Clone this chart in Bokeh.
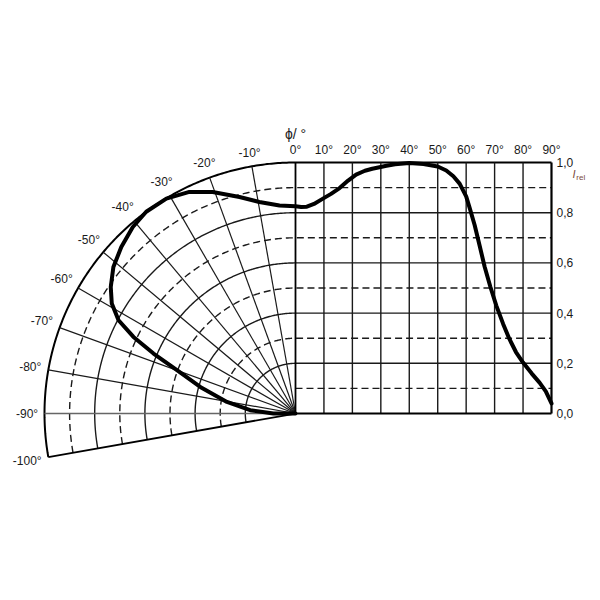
import numpy as np
from bokeh.plotting import figure
from bokeh.embed import file_html
from bokeh.resources import INLINE
from bokeh.core.properties import value

# ---------------- data ----------------
# polar part (angle in degrees, relative intensity)
polar_angle = [-90, -90, -85.8, -80.4, -74.4, -69.9, -67.1, -64.7, -62.2, -59.1, -55.6,
               -51.2, -46.3, -41.1, -36.5, -31, -25.6, -20.5, -14.5, -9.7, -4.4, 0]
polar_int = [0.0, 0.088, 0.181, 0.277, 0.394, 0.503, 0.614, 0.714, 0.797, 0.853, 0.892,
             0.931, 0.96, 0.986, 1.0, 0.999, 0.979, 0.942, 0.891, 0.855, 0.831, 0.826]
# cartesian part (angle in degrees, relative intensity)
cart_angle = [0, 2, 4, 6.5, 9.5, 12.5, 15.5, 18.5, 21.3, 24.4, 27, 29.5, 32, 35, 40, 45, 50,
              53, 55.5, 57.7, 60, 61.2, 63, 64.7, 66.5, 68.5, 70.6, 73, 75.2, 77.5, 80, 83,
              85.8, 88, 90]
cart_int = [0.826, 0.823, 0.824, 0.835, 0.855, 0.875, 0.898, 0.928, 0.952, 0.967, 0.975,
            0.981, 0.987, 0.993, 0.998, 0.994, 0.984, 0.968, 0.945, 0.916, 0.865, 0.82,
            0.75, 0.67, 0.585, 0.505, 0.43, 0.357, 0.297, 0.245, 0.203, 0.16, 0.123,
            0.088, 0.04]

polar_ticks = [-10, -20, -30, -40, -50, -60, -70, -80, -90, -100]
polar_tick_labels = ["-10°", "-20°", "-30°", "-40°", "-50°", "-60°", "-70°", "-80°", "-90°", "-100°"]
cart_ticks = [0, 10, 20, 30, 40, 50, 60, 70, 80, 90]
cart_tick_labels = ["0°", "10°", "20°", "30°", "40°", "50°", "60°", "70°", "80°", "90°"]
int_ticks = [0.0, 0.2, 0.4, 0.6, 0.8, 1.0]
int_tick_labels = ["0,0", "0,2", "0,4", "0,6", "0,8", "1,0"]
solid_levels = [0.2, 0.4, 0.6, 0.8, 1.0]
dashed_levels = [0.1, 0.3, 0.5, 0.7, 0.9]

# ---------------- layout ----------------
K = 256.0 / 251.0          # width of the 0..90 deg cartesian part in radius units
FONT = value("Liberation Sans")
INK = "#1a1a1a"

p = figure(width=592, height=584, x_range=(-1.1753, 1.1833), y_range=(-0.6812, 1.6454),
           x_axis_type=None, y_axis_type=None, toolbar_location=None,
           output_backend="svg", min_border=0, outline_line_color=None)
p.grid.visible = False
p.background_fill_color = "white"
p.border_fill_color = "white"

def cx(phi):
    return np.asarray(phi, dtype=float) / 90.0 * K

def level_path(r, with_arc=True):
    if with_arc:
        th = np.radians(np.linspace(-100, 0, 201))
        xs = list(r * np.sin(th))
        ys = list(r * np.cos(th))
    else:
        xs, ys = [0.0], [r]
    xs.append(K)
    ys.append(r)
    return xs, ys

# dashed levels
dx, dy = [], []
for r in dashed_levels:
    a, b = level_path(r, with_arc=(r > 0.15))
    dx.append(a); dy.append(b)
p.multi_line(dx, dy, line_color=INK, line_width=1.4, line_dash="7 4")

# solid levels
sx, sy = [], []
for r in solid_levels:
    if r < 1.0:
        a, b = level_path(r)
        sx.append(a); sy.append(b)
p.multi_line(sx, sy, line_color=INK, line_width=1.4)
a, b = level_path(1.0)
p.line(a, b, line_color="black", line_width=2.0)

# radial rays
rx, ry = [], []
for t in polar_ticks:
    if t in (-90, -100):
        continue
    th = np.radians(t)
    rx.append([0, np.sin(th)]); ry.append([0, np.cos(th)])
p.multi_line(rx, ry, line_color=INK, line_width=1.2)
th = np.radians(-90)
p.line([0, np.sin(th)], [0, np.cos(th)], line_color="#666666", line_width=1.4)
th = np.radians(-100)
p.line([0, np.sin(th)], [0, np.cos(th)], line_color="black", line_width=1.8)

# cartesian verticals
vx, vy = [], []
for t in cart_ticks[1:-1]:
    vx.append([cx(t), cx(t)]); vy.append([0, 1.0])
p.multi_line(vx, vy, line_color=INK, line_width=1.4)
p.line([cx(0), cx(0)], [0, 1.0], line_color="black", line_width=1.8)
p.line([cx(90), cx(90)], [0, 1.0], line_color="black", line_width=2.2)
p.line([0, K], [0, 0], line_color="black", line_width=2.2)

# ---------------- curve ----------------
pa = np.radians(polar_angle)
pr = np.asarray(polar_int)
curve_x = list(pr * np.sin(pa)) + list(cx(cart_angle))
curve_y = list(pr * np.cos(pa)) + list(cart_int)
p.line(curve_x, curve_y, line_color="black", line_width=4, line_join="round", line_cap="round")

# ---------------- labels ----------------
lx, ly = [], []
for t, lab in zip(polar_ticks, polar_tick_labels):
    th = np.radians(t)
    hw = len(lab) * 6.2 / 2 / 251
    hh = 6.5 / 251
    rr = 1.02 + hw * abs(np.sin(th)) + hh * abs(np.cos(th))
    lx.append(rr * np.sin(th)); ly.append(rr * np.cos(th))
p.text(lx, ly, text=polar_tick_labels, text_font=FONT, text_font_size="12px",
       text_align="center", text_baseline="middle", text_color=INK)

p.text(list(cx(cart_ticks)), [1.05] * len(cart_ticks), text=cart_tick_labels, text_font=FONT,
       text_font_size="12px", text_align="center", text_baseline="middle", text_color=INK)

p.text([K + 0.02] * len(int_ticks), int_ticks, text=int_tick_labels, text_font=FONT,
       text_font_size="12px", text_align="left", text_baseline="middle", text_color=INK)

p.text([0.0], [1.115], text=["ϕ/ °"], text_font=FONT, text_font_size="14px",
       text_align="center", text_baseline="middle", text_color=INK)

p.text([K + 0.09], [0.955], text=["I"], text_font=FONT, text_font_size="11px",
       text_font_style="italic", text_align="center", text_baseline="middle", text_color="#7a4a40")
p.text([K + 0.099], [0.942], text=["rel"], text_font=FONT, text_font_size="8px",
       text_align="left", text_baseline="middle", text_color="#7a4a40")

open("out.html", "w").write(file_html(p, INLINE))
